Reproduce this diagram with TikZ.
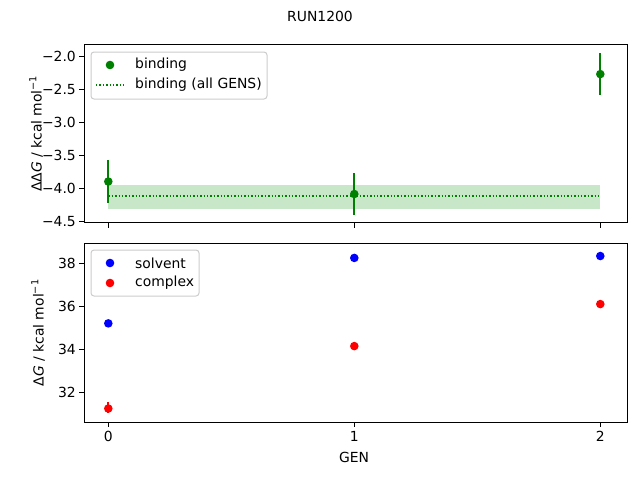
\documentclass[tikz,border=0pt]{standalone}
\usepackage{fontspec}
\setmainfont{DejaVu Sans}
\usetikzlibrary{positioning}

\definecolor{mgreen}{RGB}{0,128,0}
\definecolor{bandgreen}{RGB}{200,230,200}

\tikzset{
  axisbox/.style={draw=black, line width=1pt},
  tickline/.style={line width=1pt},
  ticklabel/.style={font=\fontsize{13.9}{16}\selectfont, inner sep=0pt},
  legendbox/.style={draw=black!20, fill=white, rounded corners=3pt, line width=1pt},
  errline/.style={line width=2pt},
}

\begin{document}
\begin{tikzpicture}[x=1pt, y=-1pt, font=\fontsize{13.9}{16}\selectfont]
  % Page frame
  \useasboundingbox (0,0) rectangle (640,480);

  % Axis mappings (pixel coordinates)
  \def\gx#1{108.3+246*#1}
  \def\ty#1{56.3-65.9*(#1+2)}
  \def\by#1{263.3-21.45*(#1-38)}

  % Title
  \node (title) at (320,16) {RUN1200};

  % ---------- top panel ----------
  \fill[bandgreen] ({\gx{0}},{\ty{-3.95}}) rectangle ({\gx{2}},{\ty{-4.31}});
  \draw[mgreen, dotted, line width=1.4pt] ({\gx{0}},{\ty{-4.12}}) -- ({\gx{2}},{\ty{-4.12}});
  \foreach \g/\v/\lo/\hi in {0/-3.90/-4.22/-3.57, 1/-4.09/-4.41/-3.77, 2/-2.27/-2.59/-1.95}{
    \draw[mgreen, errline] ({\gx{\g}},{\ty{\lo}}) -- ({\gx{\g}},{\ty{\hi}});
    \fill[mgreen] ({\gx{\g}},{\ty{\v}}) circle (4.3);
  }
  \draw[axisbox] (84.3,44.7) rectangle (627,222.7);
  \foreach \v/\t in {-2.0/−2.0, -2.5/−2.5, -3.0/−3.0, -3.5/−3.5, -4.0/−4.0, -4.5/−4.5}{
    \draw[tickline] (84.3,{\ty{\v}}) -- (79.4,{\ty{\v}});
    \node[ticklabel, anchor=east] at (76,{\ty{\v}}) {\t};
  }
  \foreach \g in {0,1,2}
    \draw[tickline] ({\gx{\g}},222.7) -- ({\gx{\g}},227.6);
  \node[rotate=90] (toplabel) at (36,133.7) {ΔΔ\textit{G} / kcal mol\textsuperscript{−1}};

  % top legend
  \draw[legendbox] (91,52) rectangle (267,99);
  \fill[mgreen] (110,65) circle (4.3);
  \node[anchor=west, inner sep=0pt] (legbind) at (135,65) {binding};
  \draw[mgreen, dotted, line width=1.4pt] (96,85) -- (124,85);
  \node[anchor=west, inner sep=0pt] (legall) at (135,85) {binding (all GENS)};

  % ---------- bottom panel ----------
  \draw[red, errline] ({\gx{0}},{\by{31.0}}) -- ({\gx{0}},{\by{31.55}});
  \foreach \g/\s/\c in {0/35.2/31.23, 1/38.25/34.14, 2/38.34/36.1}{
    \fill[blue] ({\gx{\g}},{\by{\s}}) circle (4.3);
    \fill[red] ({\gx{\g}},{\by{\c}}) circle (4.3);
  }
  \draw[axisbox] (84.3,243.3) rectangle (627,422.3);
  \foreach \v in {32,34,36,38}{
    \draw[tickline] (84.3,{\by{\v}}) -- (79.4,{\by{\v}});
    \node[ticklabel, anchor=east] at (76,{\by{\v}}) {\v};
  }
  \foreach \g in {0,1,2}{
    \draw[tickline] ({\gx{\g}},422.3) -- ({\gx{\g}},427.2);
    \node[ticklabel, anchor=north] at ({\gx{\g}},431) {\g};
  }
  \node (xlabel) at (354,457) {GEN};
  \node[rotate=90] (botlabel) at (38,332.8) {Δ\textit{G} / kcal mol\textsuperscript{−1}};

  % bottom legend
  \draw[legendbox] (91,250) rectangle (199,296);
  \fill[blue] (110,263) circle (4.3);
  \node[anchor=west, inner sep=0pt] (legsolv) at (135,263) {solvent};
  \fill[red] (110,283) circle (4.3);
  \node[anchor=west, inner sep=0pt] (legcplx) at (135,283) {complex};
\end{tikzpicture}
\end{document}
